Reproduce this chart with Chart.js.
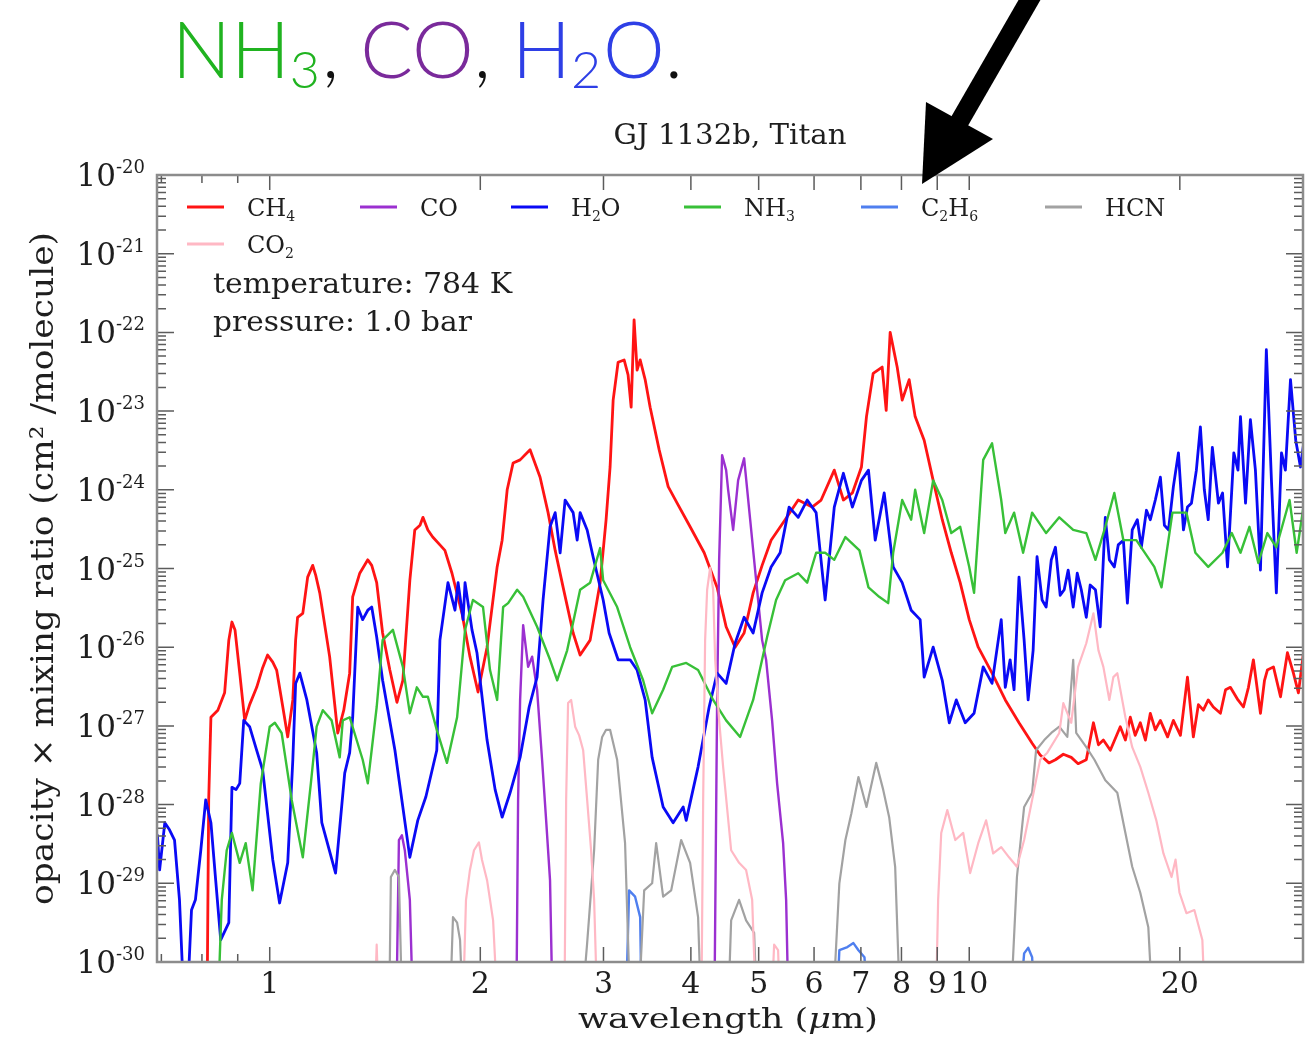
<!DOCTYPE html>
<html>
<head>
<meta charset="utf-8">
<title>GJ 1132b, Titan opacities</title>
<script src="https://cdn.jsdelivr.net/npm/chart.js@4.4.1/dist/chart.umd.min.js"></script>
<style>
  html, body { margin: 0; padding: 0; background: #fff; }
  canvas { display: block; }
</style>
</head>
<body>
<canvas id="chart" width="1305" height="1043"></canvas>
<script>
// Each series: [wavelength in µm, log10(opacity × mixing ratio in cm²/molecule)].
// An exponent of -31 lies below the 1e-30 floor of the axis, where the band drops out of view.
const ch4 = [[0.813,-31],[0.818,-27.94],[0.824,-26.89],[0.843,-26.80],[0.862,-26.58],[0.874,-25.91],[0.883,-25.68],[0.892,-25.78],[0.906,-26.33],[0.921,-26.93],[0.936,-26.73],[0.958,-26.51],[0.977,-26.26],[0.993,-26.10],[1.010,-26.19],[1.023,-26.29],[1.044,-26.76],[1.061,-27.14],[1.079,-26.67],[1.089,-25.91],[1.096,-25.62],[1.115,-25.57],[1.133,-25.11],[1.152,-24.96],[1.163,-25.08],[1.179,-25.31],[1.218,-26.12],[1.251,-27.09],[1.276,-26.80],[1.301,-26.33],[1.314,-25.36],[1.345,-25.06],[1.381,-24.89],[1.399,-24.96],[1.422,-25.18],[1.450,-25.82],[1.485,-26.29],[1.520,-26.70],[1.550,-26.42],[1.586,-25.15],[1.612,-24.51],[1.640,-24.45],[1.656,-24.35],[1.683,-24.51],[1.710,-24.60],[1.751,-24.70],[1.780,-24.77],[1.822,-25.06],[1.883,-25.57],[1.933,-26.12],[1.985,-26.57],[2.045,-26.00],[2.114,-24.98],[2.149,-24.64],[2.185,-24.00],[2.228,-23.66],[2.280,-23.62],[2.356,-23.49],[2.435,-23.84],[2.500,-24.29],[2.559,-24.77],[2.627,-25.24],[2.715,-25.82],[2.778,-26.10],[2.871,-25.91],[2.967,-25.18],[3.026,-24.38],[3.066,-23.71],[3.097,-22.86],[3.148,-22.38],[3.211,-22.35],[3.253,-22.54],[3.286,-22.95],[3.318,-21.84],[3.351,-22.48],[3.385,-22.35],[3.441,-22.60],[3.498,-22.95],[3.603,-23.49],[3.712,-23.96],[3.823,-24.17],[3.990,-24.47],[4.179,-24.80],[4.361,-25.24],[4.492,-25.74],[4.627,-26.00],[4.766,-25.82],[4.910,-25.31],[5.057,-24.96],[5.209,-24.64],[5.455,-24.38],[5.695,-24.13],[5.962,-24.22],[6.141,-24.13],[6.413,-23.75],[6.608,-24.13],[6.807,-24.04],[7.013,-23.71],[7.130,-23.07],[7.289,-22.52],[7.508,-22.44],[7.608,-22.99],[7.708,-22.00],[7.888,-22.44],[8.019,-22.86],[8.206,-22.60],[8.369,-23.07],[8.621,-23.37],[8.880,-23.88],[9.150,-24.38],[9.426,-24.80],[9.706,-25.18],[10.00,-25.65],[10.30,-26.00],[10.78,-26.33],[11.26,-26.67],[11.78,-26.96],[12.30,-27.22],[12.63,-27.37],[13.00,-27.47],[13.28,-27.43],[13.63,-27.36],[13.99,-27.40],[14.31,-27.48],[14.70,-27.43],[15.05,-26.96],[15.30,-27.24],[15.55,-27.18],[15.91,-27.31],[16.44,-27.01],[16.72,-27.18],[16.99,-26.89],[17.27,-27.12],[17.56,-26.96],[17.86,-27.18],[18.15,-26.84],[18.45,-27.05],[18.76,-26.93],[19.21,-27.14],[19.58,-26.93],[20.04,-27.12],[20.51,-26.38],[20.91,-27.14],[21.26,-26.73],[21.61,-26.80],[21.96,-26.67],[22.33,-26.76],[22.86,-26.84],[23.25,-26.54],[23.62,-26.51],[24.22,-26.67],[24.66,-26.76],[25.07,-26.51],[25.48,-26.16],[26.08,-26.84],[26.43,-26.42],[26.68,-26.29],[27.22,-26.25],[27.86,-26.63],[28.50,-26.07],[29.07,-26.33],[29.55,-26.58],[30.05,-26.07]];

const co = [[1.515,-31],[1.530,-28.45],[1.545,-28.39],[1.560,-28.58],[1.586,-29.21],[1.607,-31],
  [2.250,-31],[2.265,-27.94],[2.280,-26.67],[2.303,-25.72],[2.326,-26.04],[2.341,-26.25],[2.372,-26.12],[2.411,-26.54],[2.451,-27.43],[2.484,-28.20],[2.516,-28.96],[2.542,-31],
  [4.318,-31],[4.361,-26.67],[4.390,-24.89],[4.433,-23.56],[4.492,-23.75],[4.522,-24.00],[4.597,-24.51],[4.673,-23.88],[4.766,-23.60],[4.862,-24.38],[4.942,-25.02],[5.057,-25.91],[5.124,-26.16],[5.226,-26.93],[5.313,-27.73],[5.419,-28.49],[5.473,-29.21],[5.527,-31]];

const h2o = [[0.691,-28.39],[0.696,-28.83],[0.708,-28.23],[0.719,-28.32],[0.731,-28.45],[0.743,-29.21],[0.758,-31],[0.773,-29.34],[0.783,-29.21],[0.797,-28.58],[0.810,-27.94],[0.824,-28.23],[0.837,-28.96],[0.851,-29.72],[0.874,-29.50],[0.883,-27.78],[0.895,-27.81],[0.906,-27.73],[0.918,-26.93],[0.936,-27.01],[0.958,-27.31],[0.977,-27.56],[1.010,-28.70],[1.033,-29.25],[1.061,-28.74],[1.079,-27.43],[1.089,-26.46],[1.104,-26.33],[1.130,-26.67],[1.167,-27.34],[1.187,-28.23],[1.242,-28.87],[1.280,-27.60],[1.301,-27.34],[1.314,-26.89],[1.336,-25.49],[1.358,-25.65],[1.381,-25.53],[1.399,-25.49],[1.422,-25.87],[1.450,-26.42],[1.510,-27.31],[1.586,-28.67],[1.628,-28.20],[1.672,-27.90],[1.733,-27.31],[1.751,-25.91],[1.798,-25.18],[1.840,-25.53],[1.859,-25.18],[1.890,-25.65],[1.902,-25.18],[1.946,-25.78],[1.978,-26.07],[2.045,-27.18],[2.100,-27.81],[2.149,-28.16],[2.206,-27.85],[2.280,-27.40],[2.349,-26.76],[2.411,-26.38],[2.459,-25.40],[2.516,-24.47],[2.559,-24.29],[2.601,-24.80],[2.644,-24.13],[2.715,-24.29],[2.751,-24.64],[2.778,-24.29],[2.843,-24.51],[2.899,-24.85],[2.997,-25.40],[3.056,-25.82],[3.148,-26.16],[3.275,-26.16],[3.351,-26.29],[3.441,-26.67],[3.521,-27.40],[3.651,-28.03],[3.773,-28.23],[3.900,-28.03],[3.939,-28.20],[4.096,-27.52],[4.248,-26.76],[4.361,-26.33],[4.492,-26.46],[4.627,-25.95],[4.766,-25.62],[4.910,-25.82],[5.057,-25.31],[5.209,-24.98],[5.366,-24.80],[5.527,-24.22],[5.695,-24.35],[5.866,-24.13],[6.041,-24.29],[6.223,-25.40],[6.413,-24.22],[6.608,-23.79],[6.807,-24.22],[7.013,-23.88],[7.177,-23.75],[7.338,-24.64],[7.558,-24.04],[7.785,-24.98],[8.019,-25.18],[8.260,-25.53],[8.508,-25.65],[8.621,-26.38],[8.880,-26.00],[9.150,-26.42],[9.364,-26.96],[9.583,-26.67],[9.868,-26.96],[10.16,-26.84],[10.47,-26.25],[10.78,-26.46],[11.11,-25.65],[11.26,-26.51],[11.44,-26.16],[11.59,-26.54],[11.78,-25.11],[11.98,-25.91],[12.14,-26.67],[12.34,-26.04],[12.50,-24.85],[12.71,-25.40],[12.88,-25.49],[13.10,-24.89],[13.28,-24.73],[13.49,-25.34],[13.67,-25.27],[13.85,-25.02],[14.08,-25.49],[14.27,-25.06],[14.46,-25.27],[14.70,-25.62],[14.89,-25.21],[15.15,-25.27],[15.39,-25.74],[15.65,-24.35],[15.86,-24.89],[16.12,-24.98],[16.33,-24.70],[16.61,-24.64],[16.83,-25.44],[17.10,-24.51],[17.39,-24.38],[17.62,-24.73],[17.92,-24.26],[18.15,-24.38],[18.45,-24.13],[18.76,-23.84],[19.01,-24.45],[19.27,-24.51],[19.58,-23.96],[19.91,-23.53],[20.24,-24.51],[20.51,-24.22],[20.78,-24.17],[21.12,-23.75],[21.40,-23.20],[21.68,-24.00],[21.96,-24.38],[22.26,-23.46],[22.71,-24.17],[23.02,-24.04],[23.40,-24.98],[23.89,-23.53],[24.22,-23.75],[24.42,-23.07],[24.83,-24.17],[25.23,-23.11],[25.65,-23.75],[26.08,-25.02],[26.59,-22.22],[27.04,-23.88],[27.48,-25.31],[27.95,-23.53],[28.31,-23.75],[28.79,-22.60],[29.29,-23.37],[29.75,-23.71],[30.25,-23.24]];

const nh3 = [[0.840,-31],[0.854,-29.21],[0.868,-28.58],[0.883,-28.36],[0.906,-28.74],[0.924,-28.49],[0.945,-29.09],[0.971,-27.73],[1.000,-27.01],[1.017,-26.96],[1.040,-27.09],[1.075,-27.94],[1.115,-28.67],[1.145,-27.73],[1.167,-27.01],[1.191,-26.80],[1.226,-26.93],[1.259,-27.40],[1.272,-26.93],[1.301,-26.89],[1.358,-27.43],[1.381,-27.73],[1.422,-26.76],[1.450,-25.91],[1.500,-25.78],[1.550,-26.25],[1.586,-26.84],[1.623,-26.51],[1.656,-26.63],[1.683,-26.63],[1.733,-27.05],[1.792,-27.47],[1.853,-26.89],[1.902,-25.78],[1.952,-25.40],[2.018,-25.49],[2.065,-26.29],[2.114,-26.67],[2.156,-25.49],[2.192,-25.44],[2.258,-25.27],[2.303,-25.36],[2.411,-25.74],[2.516,-26.16],[2.576,-26.42],[2.662,-26.04],[2.778,-25.27],[2.871,-25.18],[2.967,-24.74],[2.997,-25.15],[3.138,-25.49],[3.275,-26.00],[3.418,-26.42],[3.521,-26.84],[3.651,-26.54],[3.761,-26.25],[3.939,-26.20],[4.096,-26.29],[4.304,-26.67],[4.492,-26.93],[4.704,-27.14],[4.910,-26.67],[5.141,-25.87],[5.295,-25.40],[5.455,-25.15],[5.695,-25.06],[5.866,-25.18],[6.041,-24.80],[6.223,-24.80],[6.413,-24.89],[6.652,-24.60],[6.967,-24.77],[7.177,-25.24],[7.435,-25.36],[7.658,-25.44],[7.785,-24.80],[8.019,-24.13],[8.260,-24.38],[8.369,-24.00],[8.621,-24.55],[8.880,-23.88],[9.150,-24.13],[9.426,-24.55],[9.706,-24.47],[10.00,-24.98],[10.16,-25.31],[10.47,-23.62],[10.78,-23.41],[11.11,-24.13],[11.26,-24.55],[11.59,-24.29],[11.94,-24.80],[12.30,-24.29],[12.88,-24.55],[13.45,-24.35],[14.08,-24.51],[14.70,-24.55],[15.15,-24.89],[15.65,-24.47],[16.12,-24.04],[16.61,-24.64],[17.33,-24.64],[18.39,-24.98],[18.83,-25.24],[19.52,-24.29],[20.44,-24.29],[21.05,-24.80],[21.96,-24.98],[23.02,-24.80],[23.73,-24.55],[24.42,-24.80],[25.15,-24.47],[25.90,-24.93],[26.68,-24.55],[27.48,-24.73],[28.70,-24.13],[29.38,-24.80],[30.25,-24.04]];

const c2h6 = [[3.221,-31],[3.264,-29.09],[3.329,-29.17],[3.385,-29.43],[3.407,-31],
  [6.434,-31],[6.521,-29.85],[6.696,-29.81],[6.830,-29.76],[6.944,-29.85],[7.083,-29.94],[7.217,-31],
  [11.70,-31],[11.98,-29.89],[12.14,-29.82],[12.30,-29.94],[12.46,-31]];

const hcn = [[1.480,-31],[1.490,-28.92],[1.510,-28.83],[1.530,-28.92],[1.550,-31],
  [1.804,-31],[1.828,-29.43],[1.853,-29.50],[1.871,-29.72],[1.896,-31],
  [2.769,-31],[2.843,-29.76],[2.909,-28.58],[2.948,-27.43],[2.987,-27.14],[3.026,-27.05],[3.066,-27.05],[3.138,-27.43],[3.221,-28.49],[3.286,-31],
  [3.351,-31],[3.430,-29.09],[3.521,-29.00],[3.568,-28.49],[3.651,-29.17],[3.749,-29.09],[3.874,-28.45],[3.990,-28.74],[4.096,-29.43],[4.151,-31],
  [4.507,-31],[4.567,-29.47],[4.688,-29.21],[4.797,-29.47],[4.926,-29.63],[4.991,-31],
  [6.349,-31],[6.521,-29.00],[6.652,-28.45],[6.785,-28.11],[6.944,-27.65],[7.130,-28.03],[7.362,-27.47],[7.533,-27.81],[7.683,-28.16],[7.836,-28.79],[7.993,-31],
  [11.40,-31],[11.70,-28.92],[11.98,-28.03],[12.30,-27.85],[12.46,-27.31],[12.80,-27.18],[13.10,-27.09],[13.45,-27.01],[13.81,-27.14],[14.08,-26.16],[14.22,-27.09],[14.70,-27.27],[15.10,-27.43],[15.65,-27.69],[16.28,-27.85],[16.72,-28.36],[17.10,-28.79],[17.56,-29.12],[18.03,-29.56],[18.39,-31]];

const co2 = [[1.408,-31],[1.422,-29.78],[1.436,-31],
  [1.883,-31],[1.908,-29.21],[1.933,-28.83],[1.959,-28.58],[1.991,-28.48],[2.011,-28.70],[2.045,-28.96],[2.086,-29.47],[2.128,-31],
  [2.636,-31],[2.653,-27.94],[2.670,-26.71],[2.697,-26.67],[2.733,-27.01],[2.769,-27.12],[2.806,-27.31],[2.843,-27.94],[2.880,-28.58],[2.909,-29.21],[2.948,-31],
  [4.137,-31],[4.165,-27.94],[4.192,-25.91],[4.220,-25.27],[4.262,-24.99],[4.304,-25.27],[4.333,-26.16],[4.390,-26.93],[4.448,-27.52],[4.567,-28.58],[4.688,-28.74],[4.797,-28.83],[4.894,-29.21],[4.975,-31],
  [5.192,-31],[5.261,-29.78],[5.330,-29.85],[5.383,-31],
  [8.939,-31],[9.027,-29.21],[9.119,-28.36],[9.303,-28.07],[9.551,-28.45],[9.803,-28.36],[10.03,-28.87],[10.30,-28.49],[10.57,-28.20],[10.82,-28.62],[11.11,-28.54],[11.40,-28.67],[11.70,-28.79],[11.98,-28.45],[12.30,-27.94],[12.63,-27.43],[12.93,-27.34],[13.45,-27.09],[13.63,-26.71],[13.99,-26.96],[14.31,-26.25],[14.70,-25.95],[15.05,-25.57],[15.30,-26.04],[15.55,-26.25],[15.86,-26.67],[16.07,-26.38],[16.28,-26.33],[16.72,-26.89],[17.10,-27.27],[17.56,-27.52],[18.03,-27.85],[18.51,-28.20],[18.95,-28.62],[19.46,-28.92],[19.72,-28.70],[19.98,-29.12],[20.44,-29.38],[20.98,-29.34],[21.54,-29.72],[21.82,-31]];

// Axis ranges and tick labels
const wavelengthRange = [0.69, 30];
const opacityRange = [1e-30, 1e-20];
const xTickValues = [1, 2, 3, 4, 5, 6, 7, 8, 9, 10, 20];
const xMinorTickValues = [0.7, 0.8, 0.9, 30];
const yDecadeExponents = [-30, -29, -28, -27, -26, -25, -24, -23, -22, -21, -20];

const species = [
  { label: 'CH4',  data: ch4,  color: '#ff1414', width: 2.8 },
  { label: 'CO',   data: co,   color: '#9b30d0', width: 2.4 },
  { label: 'H2O',  data: h2o,  color: '#0a0af5', width: 2.8 },
  { label: 'NH3',  data: nh3,  color: '#38c038', width: 2.4 },
  { label: 'C2H6', data: c2h6, color: '#4f7fef', width: 2.4 },
  { label: 'HCN',  data: hcn,  color: '#a2a2a2', width: 2.2 },
  { label: 'CO2',  data: co2,  color: '#ffb8c4', width: 2.2 }
];

const SERIF = '"DejaVu Serif", "Liberation Serif", serif';
const INK = '#1e1e1e';

// Draw a string scaled horizontally to an exact width.
function fitText(ctx, s, x, y, font, color, align, targetW) {
  ctx.save();
  ctx.font = font;
  ctx.fillStyle = color;
  ctx.textBaseline = 'alphabetic';
  const w = ctx.measureText(s).width;
  const sx = targetW ? targetW / w : 1;
  ctx.translate(x, y);
  ctx.scale(sx, 1);
  ctx.textAlign = align;
  ctx.fillText(s, 0, 0);
  ctx.restore();
}

// A run of text pieces (font, string) centred on x and stretched to a width.
function fitRuns(ctx, runs, x, y, color, targetW) {
  ctx.save();
  ctx.fillStyle = color;
  ctx.textBaseline = 'alphabetic';
  ctx.textAlign = 'left';
  let w = 0;
  runs.forEach(([font, s]) => { ctx.font = font; w += ctx.measureText(s).width; });
  const sx = targetW / w;
  ctx.translate(x - targetW / 2, y);
  ctx.scale(sx, 1);
  let cx = 0;
  runs.forEach(([font, s]) => { ctx.font = font; ctx.fillText(s, cx, 0); cx += ctx.measureText(s).width; });
  ctx.restore();
}

// Chemical formula with its digits set as subscripts.
function formula(ctx, s, x, baseY, size, color) {
  let cx = x;
  ctx.save();
  ctx.fillStyle = color;
  ctx.textAlign = 'left';
  ctx.textBaseline = 'alphabetic';
  for (const ch of s) {
    const sub = /[0-9]/.test(ch);
    ctx.font = (sub ? Math.round(size * 0.6) : size) + 'px ' + SERIF;
    ctx.fillText(ch, cx, baseY + (sub ? size * 0.22 : 0));
    cx += ctx.measureText(ch).width;
  }
  ctx.restore();
  return cx;
}

// legend column offsets from the left edge of the plot (first row), second row under the first
const legendColumns = [30, 203, 354, 527, 704, 888];

const decorations = {
  id: 'decorations',
  afterDraw(chart) {
    const ctx = chart.ctx;
    const area = chart.chartArea;
    const xs = chart.scales.x, ys = chart.scales.y;

    // tick marks, pointing into the plot on all four sides
    ctx.save();
    ctx.strokeStyle = '#5c5c5c';
    ctx.lineWidth = 1.5;
    const vTick = (x, len) => {
      ctx.beginPath();
      ctx.moveTo(x, area.bottom); ctx.lineTo(x, area.bottom - len);
      ctx.moveTo(x, area.top); ctx.lineTo(x, area.top + len);
      ctx.stroke();
    };
    const hTick = (y, len) => {
      ctx.beginPath();
      ctx.moveTo(area.left, y); ctx.lineTo(area.left + len, y);
      ctx.moveTo(area.right, y); ctx.lineTo(area.right - len, y);
      ctx.stroke();
    };
    xTickValues.forEach(v => vTick(xs.getPixelForValue(v), 15));
    xMinorTickValues.forEach(v => vTick(xs.getPixelForValue(v), 8));
    yDecadeExponents.forEach((e, i) => {
      hTick(ys.getPixelForValue(Math.pow(10, e)), 17);
      if (i < yDecadeExponents.length - 1) {
        for (let m = 2; m <= 9; m++) hTick(ys.getPixelForValue(m * Math.pow(10, e)), 9);
      }
    });
    ctx.restore();

    // axes frame
    ctx.save();
    ctx.strokeStyle = '#8c8c8c';
    ctx.lineWidth = 2.5;
    ctx.strokeRect(area.left, area.top, area.right - area.left, area.bottom - area.top);
    ctx.restore();

    // x tick labels
    ctx.save();
    ctx.font = '30px ' + SERIF;
    ctx.fillStyle = INK;
    ctx.textAlign = 'center';
    ctx.textBaseline = 'alphabetic';
    xTickValues.forEach(v => ctx.fillText(String(v), xs.getPixelForValue(v), area.bottom + 31));
    ctx.restore();

    // y tick labels: 10 with the exponent raised
    ctx.save();
    ctx.fillStyle = INK;
    ctx.textBaseline = 'alphabetic';
    yDecadeExponents.forEach(e => {
      const y = ys.getPixelForValue(Math.pow(10, e));
      const sup = String(e);
      ctx.font = '18px ' + SERIF;
      const supW = ctx.measureText(sup).width;
      const right = area.left - 12;
      ctx.textAlign = 'left';
      ctx.fillText(sup, right - supW, y - 2);
      ctx.font = '31px ' + SERIF;
      ctx.textAlign = 'right';
      ctx.fillText('10', right - supW, y + 11);
    });
    ctx.restore();

    // axis titles and plot title
    const cx = (area.left + area.right) / 2;
    const f28 = '28px ' + SERIF;
    fitRuns(ctx, [[f28, 'wavelength ('], ['italic ' + f28, 'μ'], [f28, 'm)']], cx - 2, area.bottom + 66, INK, 300);
    ctx.save();
    ctx.translate(53, (area.top + area.bottom) / 2);
    ctx.rotate(-Math.PI / 2);
    fitText(ctx, 'opacity × mixing ratio (cm² /molecule)', 0, 0, '31px ' + SERIF, INK, 'center', 673);
    ctx.restore();
    fitText(ctx, 'GJ 1132b, Titan', cx, area.top - 31, '27px ' + SERIF, INK, 'center', 233);

    // conditions
    fitText(ctx, 'temperature: 784 K', area.left + 56, area.top + 118, '27px ' + SERIF, INK, 'left', 299);
    fitText(ctx, 'pressure: 1.0 bar', area.left + 56, area.top + 156, '27px ' + SERIF, INK, 'left', 259);

    // legend: six entries on the first row, the seventh below
    chart.data.datasets.forEach((ds, i) => {
      const col = i % 6, row = Math.floor(i / 6);
      const x0 = area.left + legendColumns[col];
      const y0 = area.top + 32 + row * 37;
      ctx.save();
      ctx.strokeStyle = ds.borderColor;
      ctx.lineWidth = 3;
      ctx.beginPath(); ctx.moveTo(x0, y0); ctx.lineTo(x0 + 37, y0); ctx.stroke();
      ctx.restore();
      formula(ctx, ds.label, x0 + 60, y0 + 9, 24, INK);
    });

    // headline above the plot
    const headline = [
      ['NH', '#20b320', false], ['3', '#20b320', true], [', ', '#111', false],
      ['CO', '#7a2a9b', false], [', ', '#111', false],
      ['H', '#2e3fe6', false], ['2', '#2e3fe6', true], ['O', '#2e3fe6', false], ['.', '#111', false]
    ];
    ctx.save();
    ctx.textAlign = 'left';
    ctx.textBaseline = 'alphabetic';
    let hx = 172;
    headline.forEach(([s, color, sub]) => {
      ctx.font = sub ? '300 52px Lato, "Open Sans", sans-serif' : '300 78px Lato, "Open Sans", sans-serif';
      ctx.fillStyle = color;
      ctx.fillText(s, hx, sub ? 88 : 78);
      hx += ctx.measureText(s).width + (sub ? 2 : 0);
    });
    ctx.restore();

    // pointer arrow
    ctx.save();
    ctx.strokeStyle = '#000';
    ctx.fillStyle = '#000';
    ctx.lineWidth = 19;
    ctx.beginPath(); ctx.moveTo(1041, -20); ctx.lineTo(958, 124); ctx.stroke();
    ctx.beginPath(); ctx.moveTo(926, 102); ctx.lineTo(993, 139); ctx.lineTo(922, 184); ctx.closePath(); ctx.fill();
    ctx.restore();
  }
};

new Chart(document.getElementById('chart'), {
  type: 'line',
  data: {
    datasets: species.map((s, i) => ({
      label: s.label,
      data: s.data.map(([w, e]) => ({ x: w, y: Math.pow(10, e) })),
      borderColor: s.color,
      backgroundColor: s.color,
      borderWidth: s.width,
      pointRadius: 0,
      tension: 0,
      fill: false,
      order: species.length - i
    }))
  },
  options: {
    responsive: false,
    animation: false,
    devicePixelRatio: 1,
    layout: { padding: { top: 175, right: 2, left: 0, bottom: 0 } },
    plugins: { legend: { display: false }, tooltip: { enabled: false }, title: { display: false } },
    elements: { line: { borderJoinStyle: 'round', borderCapStyle: 'round' } },
    scales: {
      x: {
        type: 'logarithmic',
        min: wavelengthRange[0], max: wavelengthRange[1],
        ticks: { display: false }, grid: { display: false }, border: { display: false },
        afterFit: s => { s.height = 81; }
      },
      y: {
        type: 'logarithmic',
        min: opacityRange[0], max: opacityRange[1],
        ticks: { display: false }, grid: { display: false }, border: { display: false },
        afterFit: s => { s.width = 157; }
      }
    }
  },
  plugins: [decorations]
});
</script>
</body>
</html>
